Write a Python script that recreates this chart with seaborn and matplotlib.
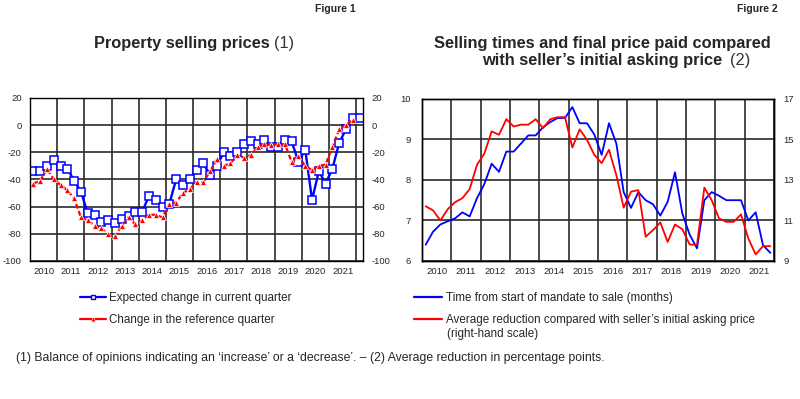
import pandas as pd
import seaborn as sns
import matplotlib.pyplot as plt
from matplotlib.lines import Line2D
from matplotlib.ticker import FixedLocator, FixedFormatter, NullFormatter

# Figure 1 - balance of opinions (quarterly, 2010Q1 onwards)
expected_change = [-34, -34, -30, -26,
                   -30, -32, -41, -49,
                   -65, -66, -71, -70,
                   -72, -69, -67, -64,
                   -64, -52, -55, -60,
                   -58, -40, -44, -40,
                   -33, -28, -37, -30,
                   -20, -23, -20, -14,
                   -12, -14, -11, -16,
                   -16, -11, -12, -27,
                   -18, -55, -34, -43,
                   -32, -13, -3, 5,
                   5]
reference_change = [-43, -41, -32, -40,
                    -44, -48, -54, -68,
                    -70, -74, -76, -80,
                    -82, -74, -68, -73,
                    -70, -66, -66, -68,
                    -58, -57, -50, -47,
                    -42, -42, -34, -25,
                    -30, -28, -22, -24,
                    -22, -16, -14, -15,
                    -14, -14, -27, -23,
                    -30, -33, -30, -29,
                    -16, -3, 0, 4]

# Figure 2 - months (left scale) and reduction in % (right scale)
selling_time = [6.40, 6.72, 6.90, 6.98,
                7.05, 7.20, 7.10, 7.55,
                7.90, 8.40, 8.20, 8.70,
                8.70, 8.90, 9.10, 9.10,
                9.30, 9.43, 9.53, 9.53,
                9.80, 9.40, 9.40, 9.12,
                8.62, 9.40, 8.90, 7.70,
                7.31, 7.70, 7.50, 7.40,
                7.12, 7.46, 8.19, 7.17,
                6.65, 6.31, 7.50, 7.70,
                7.61, 7.50, 7.50, 7.50,
                7.00, 7.20, 6.39, 6.20]
price_reduction = [11.70, 11.50, 11.00, 11.55,
                   11.90, 12.10, 12.55, 13.75,
                   14.30, 15.40, 15.23, 16.00,
                   15.64, 15.73, 15.73, 16.00,
                   15.56, 16.00, 16.10, 16.10,
                   14.60, 15.50, 14.98, 14.24,
                   13.83, 14.49, 13.24, 11.63,
                   12.42, 12.50, 10.20, 10.52,
                   10.90, 9.94, 10.80, 10.57,
                   9.81, 9.80, 12.62, 12.00,
                   11.10, 10.93, 10.93, 11.30,
                   10.11, 9.32, 9.73, 9.73]

years = list(range(2010, 2022))


def quarter_x(n):
    per = pd.period_range("2010Q1", periods=n, freq="Q")
    return [p.year + (p.quarter - 0.5) / 4 for p in per]


sns.set_style("white")
plt.rcParams["font.family"] = ["Liberation Sans", "DejaVu Sans"]
plt.rcParams["axes.unicode_minus"] = False

fig = plt.figure(figsize=(8, 3.99), dpi=100)
grid_kw = dict(color="#2b2b2b", linewidth=1.2)


def style_time_axis(ax, x_end):
    ax.set_xlim(2010, x_end)
    bounds = [y for y in range(2010, 2023) if y <= x_end]
    ax.xaxis.set_major_locator(FixedLocator(bounds))
    ax.xaxis.set_major_formatter(NullFormatter())
    minor_pos, minor_lab = [], []
    for y in years:
        for q, lab in ((0.25, ""), (0.5, str(y)), (0.75, "")):
            minor_pos.append(y + q)
            minor_lab.append(lab)
    ax.xaxis.set_minor_locator(FixedLocator(minor_pos))
    ax.xaxis.set_minor_formatter(FixedFormatter(minor_lab))
    ax.tick_params(axis="x", which="major", length=0)
    ax.tick_params(axis="x", which="minor", direction="in", length=3,
                   width=0.8, labelsize=6.8, pad=4)
    ax.grid(True, which="major", **grid_kw)
    for s in ax.spines.values():
        s.set_color("black")
        s.set_linewidth(1.0)


# ---------- Figure 1 ----------
ax1 = fig.add_axes([0.0375, 0.346, 0.41625, 0.4085])
sns.lineplot(x=quarter_x(len(expected_change)), y=expected_change, ax=ax1,
             color="blue", linewidth=1.7,
             marker="s", markersize=5.2, markerfacecolor="white",
             markeredgecolor="blue", markeredgewidth=1.1)
sns.lineplot(x=quarter_x(len(reference_change)), y=reference_change, ax=ax1,
             color="red", linewidth=1.6, linestyle=(0, (2.2, 1.2)),
             marker="^", markersize=5, markerfacecolor="red",
             markeredgecolor="white", markeredgewidth=0.5)
ax1.set_ylim(-100, 20)
ax1.set_yticks(range(-100, 21, 20))
ax1.tick_params(axis="y", length=0, labelsize=6.8, pad=6,
                labelright=True, labelleft=True)
style_time_axis(ax1, 2022.25)

# ---------- Figure 2 ----------
ax2 = fig.add_axes([0.5275, 0.346, 0.44, 0.406])
sns.lineplot(x=quarter_x(len(selling_time)), y=selling_time, ax=ax2,
             color="blue", linewidth=1.3)
ax2.set_ylim(6, 10)
ax2.set_yticks(range(6, 11))
ax2.tick_params(axis="y", length=0, labelsize=6.8, pad=8)
style_time_axis(ax2, 2022)

ax2r = ax2.twinx()
sns.lineplot(x=quarter_x(len(price_reduction)), y=price_reduction, ax=ax2r,
             color="red", linewidth=1.3)
ax2r.set_ylim(9, 17)
ax2r.set_yticks(range(9, 18, 2))
ax2r.tick_params(axis="y", length=0, labelsize=6.8, pad=7)
ax2r.set_ylabel("")
ax2r.grid(False)
for s in ax2r.spines.values():
    s.set_color("black")
    s.set_linewidth(1.0)

# ---------- Titles ----------
fig.text(0.444, 0.978, "Figure 1", ha="right", va="center",
         fontsize=7.5, fontweight="bold")
fig.text(0.9725, 0.978, "Figure 2", ha="right", va="center",
         fontsize=7.5, fontweight="bold")
fig.text(0.3375, 0.892, "Property selling prices", ha="right", va="center",
         fontsize=11.8, fontweight="bold")
fig.text(0.343, 0.892, "(1)", ha="left", va="center",
         fontsize=11.8, color="#333333")
fig.text(0.753, 0.892, "Selling times and final price paid compared",
         ha="center", va="center", fontsize=11.8, fontweight="bold")
fig.text(0.903, 0.849, "with seller\u2019s initial asking price",
         ha="right", va="center", fontsize=11.8, fontweight="bold")
fig.text(0.912, 0.849, "(2)", ha="left", va="center",
         fontsize=11.8, color="#333333")

# ---------- Legends ----------
h1 = [Line2D([], [], color="blue", linewidth=1.6, marker="s", markersize=3.5,
             markerfacecolor="white", markeredgecolor="blue"),
      Line2D([], [], color="red", linewidth=1.6, marker="^", markersize=3.5,
             markerfacecolor="red", markeredgecolor="white",
             markeredgewidth=0.4)]
fig.legend(h1, ["Expected change in current quarter",
                "Change in the reference quarter"],
           loc="upper left", bbox_to_anchor=(0.1, 0.268), frameon=False,
           fontsize=8.4, handlelength=2.2, handletextpad=0.3,
           labelspacing=0.85, borderpad=0, borderaxespad=0)

h2 = [Line2D([], [], color="blue", linewidth=1.6),
      Line2D([], [], color="red", linewidth=1.6)]
fig.legend(h2, ["Time from start of mandate to sale (months)",
                "Average reduction compared with seller\u2019s initial asking price"],
           loc="upper left", bbox_to_anchor=(0.517, 0.268), frameon=False,
           fontsize=8.4, handlelength=2.4, handletextpad=0.35,
           labelspacing=0.85, borderpad=0, borderaxespad=0)
fig.text(0.5585, 0.163, "(right-hand scale)", ha="left", va="center",
         fontsize=8.4)

fig.text(0.02, 0.103,
         "(1) Balance of opinions indicating an \u2018increase\u2019 or a "
         "\u2018decrease\u2019. \u2013 (2) Average reduction in percentage points.",
         ha="left", va="center", fontsize=8.8)

fig.savefig("out.png", dpi=100)
